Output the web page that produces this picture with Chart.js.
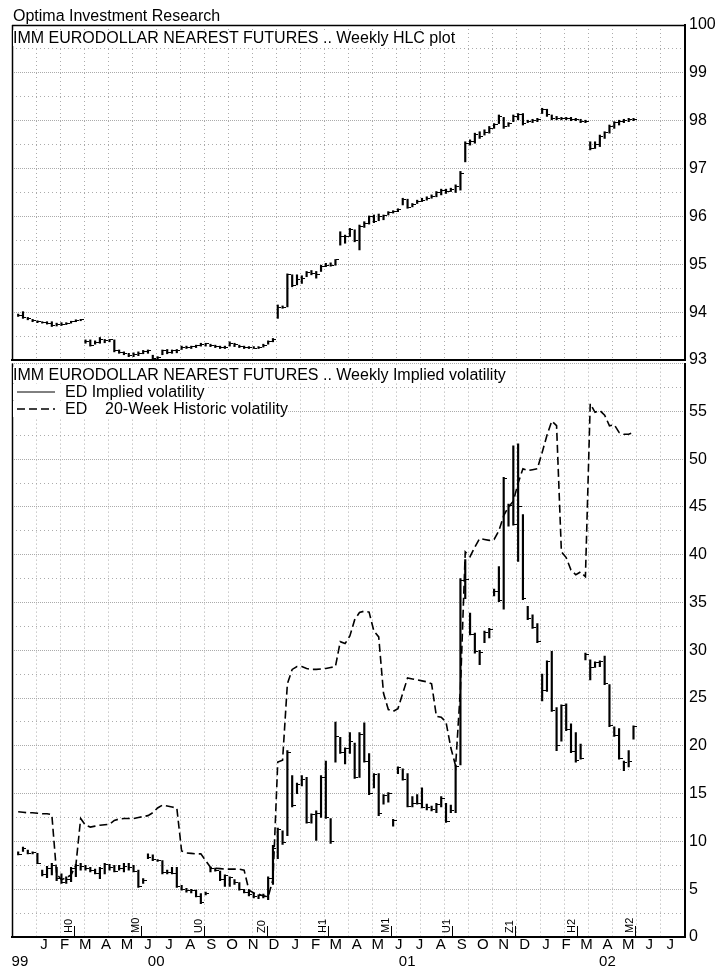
<!DOCTYPE html>
<html>
<head>
<meta charset="utf-8">
<title>IMM Eurodollar Nearest Futures</title>
<script src="https://cdn.jsdelivr.net/npm/chart.js@4.4.1/dist/chart.umd.min.js"></script>
<style>
  html, body { margin: 0; padding: 0; background: #ffffff; }
  body { position: relative; width: 716px; height: 970px; overflow: hidden;
         font-family: "Liberation Sans", Arial, Helvetica, sans-serif; color: #000; }
  canvas { position: absolute; left: 0; }
  #hlcCanvas { top: 0; z-index: 2; }
  #volCanvas { top: 350px; z-index: 1; }
  .label { position: absolute; font-size: 16px; line-height: 16px; white-space: pre;
           background: #fff; z-index: 3; }
  .key { position: absolute; left: 4px; top: 7px; }
</style>
</head>
<body>
<div class="label" style="left:13px; top:8px;">Optima Investment Research</div>
<div class="label" style="left:13px; top:30px;">IMM EURODOLLAR NEAREST FUTURES .. Weekly HLC plot</div>
<div class="label" style="left:13px; top:367px;">IMM EURODOLLAR NEAREST FUTURES .. Weekly Implied volatility</div>
<div class="label" style="left:13px; top:384px; padding-left:52px;"><svg class="key" width="38" height="2"><line x1="0" y1="1" x2="38" y2="1" stroke="#000" stroke-width="1"/></svg>ED Implied volatility</div>
<div class="label" style="left:13px; top:401px; padding-left:52px;"><svg class="key" width="38" height="2"><line x1="0" y1="1" x2="38" y2="1" stroke="#000" stroke-width="1.5" stroke-dasharray="8 4"/></svg>ED    20-Week Historic volatility</div>
<canvas id="hlcCanvas" width="716" height="375"></canvas>
<canvas id="volCanvas" width="716" height="620"></canvas>
<script>
// ─── Data (weekly, first bar week of 10 Dec 1999) ─────────────────────────────

const firstWeek = "1999-12-10";

// IMM Eurodollar nearest futures, weekly high / low / close
const futHigh = [
  93.96, 94.01, 93.89, 93.85, 93.82, 93.80, 93.80, 93.80, 93.77, 93.78, 93.78, 93.81, 93.84, 93.85,
  93.42, 93.42, 93.40, 93.47, 93.43, 93.43, 93.42, 93.21, 93.17, 93.14, 93.15, 93.17, 93.20, 93.21,
  93.10, 93.07, 93.21, 93.22, 93.21, 93.22, 93.29, 93.29, 93.29, 93.31, 93.35, 93.35, 93.33, 93.31,
  93.29, 93.29, 93.38, 93.35, 93.31, 93.29, 93.28, 93.28, 93.28, 93.33, 93.40, 93.45,
  94.15, 94.13, 94.80, 94.78, 94.78, 94.76, 94.85, 94.87, 94.85, 94.98, 95.02, 95.03, 95.10,
  95.68, 95.61, 95.75, 95.72, 95.82, 95.89, 96.01, 96.03, 96.05, 96.03, 96.10, 96.12, 96.16, 96.38,
  96.36, 96.27, 96.34, 96.38, 96.41, 96.45, 96.52, 96.57, 96.57, 96.59, 96.66, 96.94,
  97.56, 97.60, 97.74, 97.77, 97.81, 97.88, 97.94, 98.12, 98.07, 97.96, 98.12, 98.15, 98.15, 98.01,
  98.03, 98.05, 98.26, 98.24, 98.12, 98.09, 98.07, 98.07, 98.07, 98.05, 98.03, 98.01,
  97.56, 97.56, 97.70, 97.77, 97.91, 97.98, 98.01, 98.03, 98.05, 98.05
];
const futLow = [
  93.91, 93.87, 93.84, 93.80, 93.78, 93.77, 93.75, 93.70, 93.71, 93.72, 93.74, 93.77, 93.80, 93.82,
  93.35, 93.29, 93.33, 93.35, 93.36, 93.38, 93.17, 93.14, 93.11, 93.07, 93.07, 93.09, 93.13, 93.14,
  93.02, 93.01, 93.11, 93.13, 93.14, 93.15, 93.22, 93.24, 93.24, 93.26, 93.29, 93.29, 93.28, 93.26,
  93.24, 93.24, 93.29, 93.28, 93.26, 93.24, 93.24, 93.24, 93.24, 93.27, 93.33, 93.38,
  93.87, 94.08, 94.11, 94.53, 94.57, 94.60, 94.74, 94.78, 94.71, 94.85, 94.95, 94.96, 94.98,
  95.40, 95.44, 95.58, 95.47, 95.30, 95.77, 95.84, 95.87, 95.91, 95.93, 96.03, 96.07, 96.10, 96.24,
  96.17, 96.20, 96.27, 96.31, 96.34, 96.38, 96.41, 96.45, 96.48, 96.52, 96.50, 96.55,
  97.14, 97.49, 97.53, 97.63, 97.70, 97.74, 97.84, 97.94, 97.84, 97.88, 97.98, 98.02, 97.91, 97.96,
  97.96, 97.98, 98.15, 98.09, 98.02, 98.02, 98.02, 98.02, 98.00, 98.00, 97.96, 97.96,
  97.39, 97.42, 97.46, 97.63, 97.74, 97.84, 97.91, 97.96, 97.98, 98.00
];
const futClose = [
  93.93, 93.89, 93.86, 93.83, 93.80, 93.79, 93.77, 93.72, 93.74, 93.75, 93.76, 93.80, 93.83, 93.84,
  93.38, 93.30, 93.36, 93.43, 93.41, 93.42, 93.19, 93.16, 93.13, 93.10, 93.12, 93.14, 93.17, 93.19,
  93.03, 93.05, 93.19, 93.15, 93.19, 93.20, 93.27, 93.27, 93.28, 93.30, 93.33, 93.34, 93.31, 93.29,
  93.27, 93.26, 93.35, 93.32, 93.29, 93.27, 93.26, 93.25, 93.27, 93.31, 93.38, 93.43,
  94.10, 94.10, 94.78, 94.55, 94.69, 94.71, 94.82, 94.80, 94.79, 94.95, 94.98, 94.98, 95.09,
  95.59, 95.58, 95.72, 95.49, 95.79, 95.86, 96.00, 95.89, 96.00, 96.01, 96.08, 96.10, 96.15, 96.36,
  96.19, 96.25, 96.31, 96.34, 96.38, 96.41, 96.50, 96.55, 96.52, 96.57, 96.63, 96.90,
  97.53, 97.56, 97.72, 97.67, 97.75, 97.84, 97.93, 98.09, 97.88, 97.94, 98.09, 98.12, 97.94, 97.99,
  98.00, 98.02, 98.24, 98.12, 98.05, 98.05, 98.04, 98.04, 98.03, 98.02, 97.98, 97.98,
  97.42, 97.50, 97.67, 97.75, 97.88, 97.96, 97.99, 98.01, 98.03, 98.03
];

// ED implied volatility, weekly high / low / close
const ivHigh = [
  8.9, 9.4, 9.1, 8.9, 8.75, 7.0, 7.4, 7.7, 7.3, 6.6, 6.3, 7.3, 7.6, 7.7, 7.5, 7.3, 7.1, 7.3, 7.7, 7.6,
  7.5, 7.5, 7.7, 7.7, 7.5, 7.0, 6.1, 8.7, 8.6, 8.1, 8.0, 7.0, 7.3, 7.3, 5.4, 5.1, 5.0, 4.9, 4.55, 4.7,
  7.3, 7.2, 6.9, 6.5, 6.3, 6.0, 5.7, 5.0, 4.9, 4.6, 4.4, 4.5, 6.3, 9.6, 11.4, 11.1, 19.5, 16.9, 16.1, 16.9,
  16.7, 12.9, 13.2, 16.9, 18.4, 12.4, 22.5, 20.9, 19.8, 21.4, 20.3, 21.4, 22.4, 19.2, 17.1, 17.1, 14.9, 15.1, 12.3, 17.8,
  17.6, 17.1, 14.7, 14.9, 15.6, 13.9, 13.7, 14.0, 14.7, 14.0, 13.8, 18.0, 37.5, 39.5, 33.9, 31.8, 30.0, 32.0, 32.3, 36.4,
  38.75, 48.1, 45.3, 51.4, 51.6, 44.2, 34.6, 33.7, 32.8, 27.5, 28.9, 29.9, 24.0, 24.3, 24.4, 22.3, 21.4, 20.2, 29.7, 29.0,
  28.8, 28.9, 29.4, 26.4, 22.0, 21.8, 18.4, 19.5, 22.1
];
const ivLow = [
  8.6, 8.95, 8.7, 8.7, 7.67, 6.4, 6.2, 6.5, 5.9, 5.6, 5.6, 5.8, 6.3, 7.0, 7.0, 6.8, 6.6, 6.1, 6.6, 7.0,
  6.8, 7.0, 6.8, 7.0, 6.8, 5.2, 5.6, 8.2, 8.0, 7.9, 6.6, 6.6, 6.6, 5.2, 4.9, 4.7, 4.6, 4.2, 3.5, 4.4,
  6.8, 6.9, 5.9, 5.3, 5.3, 5.5, 4.9, 4.6, 4.3, 4.1, 4.0, 4.1, 3.9, 5.5, 8.2, 9.7, 10.6, 13.6, 15.0, 15.8,
  11.9, 11.9, 10.1, 12.5, 12.4, 9.8, 18.3, 19.2, 18.1, 19.2, 16.6, 16.7, 18.3, 14.9, 15.6, 12.7, 13.9, 14.1, 11.6, 17.1,
  16.4, 13.6, 13.6, 13.9, 13.5, 13.3, 13.2, 13.0, 13.6, 12.0, 13.0, 13.0, 18.0, 35.4, 31.6, 29.7, 28.5, 30.8, 31.3, 35.7,
  35.1, 34.3, 43.0, 43.1, 39.3, 35.3, 33.2, 32.3, 30.8, 24.7, 25.7, 23.6, 19.5, 20.5, 21.6, 19.3, 18.3, 18.6, 29.0, 26.9,
  28.2, 28.3, 26.4, 22.0, 21.0, 18.6, 17.4, 17.8, 20.7
];
const ivClose = [
  8.65, 9.3, 8.75, 8.8, 7.7, 6.5, 7.2, 7.5, 6.1, 5.7, 6.0, 7.2, 7.5, 7.4, 7.2, 7.0, 6.65, 7.2, 7.6, 7.3,
  6.85, 7.2, 7.4, 7.3, 6.9, 5.3, 5.9, 8.3, 8.1, 8.0, 6.7, 6.7, 6.65, 5.3, 5.0, 4.85, 4.9, 4.25, 3.6, 4.6,
  7.2, 7.0, 6.0, 6.4, 6.2, 5.7, 5.0, 4.7, 4.4, 4.2, 4.3, 4.2, 6.1, 9.3, 11.2, 9.9, 19.3, 13.8, 16.0, 16.5,
  12.0, 12.8, 12.9, 16.7, 12.5, 10.0, 21.0, 19.3, 19.7, 20.5, 16.7, 21.2, 18.4, 15.0, 17.0, 12.9, 14.8, 15.0, 12.2, 17.7,
  16.5, 13.7, 14.0, 14.0, 13.6, 13.5, 13.3, 13.9, 14.5, 12.1, 13.2, 17.8, 37.3, 37.4, 31.7, 29.9, 29.8, 31.9, 32.2, 36.2,
  35.2, 48.0, 45.2, 43.2, 45.0, 35.4, 33.3, 32.4, 30.9, 25.8, 28.8, 23.7, 20.0, 24.2, 21.7, 19.4, 18.5, 18.7, 29.6, 28.2,
  28.7, 28.8, 26.5, 22.1, 21.1, 18.7, 18.3, 18.4, 22.0
];

// ED 20-week historic volatility
const histVol = [
  13.1, 13.05, 13.0, 13.0, 12.95, 12.9, 12.9, 12.8, 6.6, 6.0, 6.2, 6.5, 7.5, 12.4, 11.7, 11.5, 11.6, 11.7, 11.75, 11.8,
  12.2, 12.35, 12.4, 12.4, 12.4, 12.5, 12.6, 12.7, 13.0, 13.5, 13.8, 13.7, 13.6, 13.5, 9.0, 8.8, 8.75, 8.7, 8.7, 8.0,
  7.3, 7.2, 7.15, 7.1, 7.1, 7.1, 7.1, 7.0, 4.9, 4.6, 4.5, 4.3, 4.2, 6.0, 18.3, 18.5, 26.5, 28.0, 28.3, 28.3,
  28.1, 28.0, 28.0, 28.05, 28.1, 28.2, 28.3, 30.9, 30.7, 31.5, 33.2, 33.95, 34.1, 34.0, 32.0, 31.4, 25.5, 23.8, 23.6, 23.9,
  25.5, 27.1, 27.0, 26.9, 26.8, 26.7, 26.5, 23.1, 23.0, 22.5, 19.8, 17.9, 26.0, 40.3, 39.8, 40.8, 41.7, 41.6, 41.5, 41.6,
  42.5, 44.1, 45.0, 45.6, 47.5, 49.0, 48.8, 48.9, 49.0, 50.7, 52.5, 54.0, 53.5, 40.3, 39.7, 38.4, 37.9, 38.2, 37.7, 55.8,
  54.9, 55.1, 54.6, 53.5, 53.6, 52.8, 52.6, 52.6, 52.8
];

// contract roll markers along the bottom axis
const contractLabels = ["H0", "M0", "U0", "Z0", "H1", "M1", "U1", "Z1", "H2", "M2"];
const contractDates  = ["2000-02-29", "2000-06-06", "2000-09-05", "2000-12-06", "2001-03-05",
                        "2001-06-05", "2001-09-02", "2001-12-02", "2002-03-03", "2002-05-26"];

// axis labels
const monthLetters = ["J","F","M","A","M","J","J","A","S","O","N","D",
                      "J","F","M","A","M","J","J","A","S","O","N","D",
                      "J","F","M","A","M","J","J"];
const yearLabels = ["99", "00", "01", "02"];

// ─── Helpers ──────────────────────────────────────────────────────────────────

const FONT = '"Liberation Sans", Arial, Helvetica, sans-serif';
const GRID = "#ababab";
const X_MIN = -31, X_MAX = 949;   // 1 Dec 1999 .. 7 Aug 2002, in days from 1 Jan 2000

function dayNum(iso) {
    const [y, m, d] = iso.split("-").map(Number);
    return (Date.UTC(y, m - 1, d) - Date.UTC(2000, 0, 1)) / 864e5;
}

const weekDays = futHigh.map((_, i) => dayNum(firstWeek) + 7 * i);
const contractDays = contractDates.map(dayNum);

// vertical grid every 5 weeks, starting at the left edge
const gridDays = [];
for (let d = X_MIN; d <= X_MAX; d += 35) gridDays.push(d);

// month letters at mid-month, Jan 2000 .. Jul 2002
const monthDays = monthLetters.map((_, i) => {
    const y = 2000 + Math.floor(i / 12), m = i % 12;
    const a = (Date.UTC(y, m, 1) - Date.UTC(2000, 0, 1)) / 864e5;
    const b = (Date.UTC(y, m + 1, 1) - Date.UTC(2000, 0, 1)) / 864e5;
    return (a + b) / 2;
});

// year labels centred on the visible part of each year
const yearDays = yearLabels.map((_, i) => {
    const a = Math.max(X_MIN, (Date.UTC(1999 + i, 0, 1) - Date.UTC(2000, 0, 1)) / 864e5);
    const b = Math.min(X_MAX, (Date.UTC(2000 + i, 0, 1) - Date.UTC(2000, 0, 1)) / 864e5);
    return (a + b) / 2 - 4;
});

// close tick: a short stub to the right of the bar
function closeTick() {
    const c = document.createElement("canvas");
    c.width = 7;
    c.height = 1;
    const g = c.getContext("2d");
    g.fillStyle = "#000";
    g.fillRect(4, 0, 3, 1);
    return c;
}
const TICK = closeTick();

const isMultiple = (v, step) => Math.abs(v / step - Math.round(v / step)) < 1e-6;

function gridAxis() {
    return {
        type: "linear", min: X_MIN, max: X_MAX, offset: false,
        afterBuildTicks: (s) => { s.ticks = gridDays.map((v) => ({ value: v })); },
        ticks: { display: false },
        grid: { color: GRID, drawTicks: false, offset: false },
        border: { display: true, color: "#000", width: 2, dash: [1, 3] },
    };
}

function labelAxis(days, labels, weight, height, padding) {
    return {
        type: "linear", position: "bottom", weight, min: X_MIN, max: X_MAX, offset: false,
        afterBuildTicks: (s) => { s.ticks = days.map((v) => ({ value: v })); },
        afterFit: (s) => { s.height = height; },
        ticks: {
            autoSkip: false, maxRotation: 0, padding, color: "#000",
            font: { family: FONT, size: 15, lineHeight: 1 },
            callback: (v, i) => labels[i],
        },
        grid: { display: false, drawTicks: false },
        border: { display: false },
    };
}

function valueAxis(min, max, step, major, top) {
    return {
        type: "linear", position: "right", min, max,
        afterFit: (s) => { s.width = 31; },
        ticks: {
            stepSize: step, autoSkip: false, padding: 4, crossAlign: "near", color: "#000",
            font: { family: FONT, size: 16 },
            callback: (v) => (isMultiple(v, major) && v !== top ? String(Math.round(v)) : ""),
        },
        grid: { color: GRID, drawTicks: false },
        border: {
            display: true, color: "#000", width: 2,
            dash: (c) => (c.tick && isMultiple(c.tick.value, major) ? [1, 1] : [1, 3]),
        },
    };
}

const framePlugin = {
    id: "frame",
    afterDraw(chart, args, opts) {
        const { ctx, chartArea: a } = chart;
        ctx.save();
        ctx.strokeStyle = "#000";
        ctx.lineWidth = 1.5;
        ctx.beginPath();
        ctx.moveTo(a.left + 0.5, a.top);
        ctx.lineTo(a.left + 0.5, a.bottom);
        if (opts.top) {
            ctx.moveTo(a.left, a.top + 0.5);
            ctx.lineTo(a.right, a.top + 0.5);
        }
        ctx.stroke();
        ctx.restore();
    },
};

const contractPlugin = {
    id: "contracts",
    afterDatasetsDraw(chart) {
        const { ctx, chartArea: a, scales: { x } } = chart;
        ctx.save();
        ctx.strokeStyle = "#000";
        ctx.fillStyle = "#000";
        ctx.lineWidth = 1;
        ctx.font = "11px " + FONT;
        contractLabels.forEach((label, i) => {
            const px = Math.round(x.getPixelForValue(contractDays[i])) + 0.5;
            ctx.beginPath();
            ctx.moveTo(px, a.bottom);
            ctx.lineTo(px, a.bottom - 11);
            ctx.stroke();
            ctx.save();
            ctx.translate(px - 3, a.bottom - 4);
            ctx.rotate(-Math.PI / 2);
            ctx.textAlign = "left";
            ctx.textBaseline = "alphabetic";
            ctx.fillText(label, 0, 0);
            ctx.restore();
        });
        ctx.restore();
    },
};

function hlcDatasets(high, low, close) {
    return [
        {
            type: "bar",
            data: weekDays.map((d, i) => ({ x: d, y: [low[i], high[i]] })),
            backgroundColor: "#000",
            borderWidth: 0,
            barThickness: 1.5,
            grouped: false,
        },
        {
            type: "scatter",
            data: weekDays.map((d, i) => ({ x: d, y: close[i] })),
            pointStyle: TICK,
            pointRadius: 3,
        },
    ];
}

const common = {
    responsive: false,
    animation: false,
    devicePixelRatio: 1,
    events: [],
    plugins: { legend: { display: false }, tooltip: { enabled: false } },
};

// ─── Top panel: weekly HLC ────────────────────────────────────────────────────

new Chart(document.getElementById("hlcCanvas"), {
    type: "bar",
    data: { datasets: hlcDatasets(futHigh, futLow, futClose) },
    options: {
        ...common,
        layout: { padding: { left: 12, top: 25, right: 0, bottom: 15 } },
        scales: {
            x: gridAxis(),
            y: valueAxis(93, 100, 0.5, 1, null),
        },
        plugins: { ...common.plugins, frame: { top: true } },
    },
    plugins: [framePlugin],
});

// ─── Bottom panel: implied and historic volatility ───────────────────────────

const volSets = hlcDatasets(ivHigh, ivLow, ivClose);
volSets.push({
    type: "line",
    data: weekDays.map((d, i) => ({ x: d, y: histVol[i] })),
    borderColor: "#000",
    borderWidth: 1.6,
    borderDash: [8, 4],
    pointRadius: 0,
    tension: 0,
    fill: false,
});

new Chart(document.getElementById("volCanvas"), {
    type: "bar",
    data: { datasets: volSets },
    options: {
        ...common,
        layout: { padding: { left: 12, top: 10, right: 0, bottom: 0 } },
        scales: {
            x: gridAxis(),
            xm: labelAxis(monthDays, monthLetters, 1, 16, 0),
            xy: labelAxis(yearDays, yearLabels, 2, 17, 1),
            y: valueAxis(0, 60, 2.5, 5, 60),
        },
        plugins: { ...common.plugins, frame: { top: false } },
    },
    plugins: [framePlugin, contractPlugin],
});
</script>
</body>
</html>
